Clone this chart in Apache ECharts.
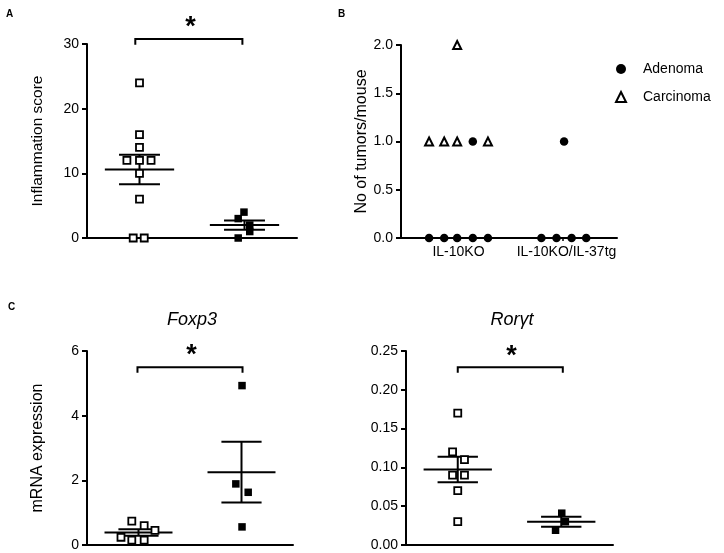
<!DOCTYPE html>
<html><head><meta charset="utf-8">
<script src="https://cdn.jsdelivr.net/npm/echarts@6/dist/echarts.min.js"></script>
<style>html,body{margin:0;padding:0;background:#fff}#c{width:724px;height:553px}</style>
</head><body><div id="c"></div><script>
// ---------- data ----------
// Panel A: inflammation score (IL-10KO vs IL-10KO/IL-37tg)
const aKO   = [24, 16, 14, 12, 12, 12, 10, 6, 0, 0];
const aKOx  = [1.0, 1.0, 1.0, 0.76, 1.0, 1.22, 1.0, 1.0, 0.88, 1.09];
const aTg   = [4, 3, 2, 1, 0];
const aTgx  = [2.99, 2.88, 3.1, 3.1, 2.88];
const aYTicks = [0, 10, 20, 30];
// Panel B: tumors per mouse
const bGroups = ['IL-10KO', 'IL-10KO/IL-37tg'];
const bAdenoma  = [0, 0, 0, 0, 0, 1, 0, 0, 0, 0, 1];
const bAdenomaX = [0.52, 0.80, 1.04, 1.33, 1.61, 1.33, 2.60, 2.88, 3.16, 3.43, 3.02];
const bCarcinoma  = [1, 1, 1, 1, 2];
const bCarcinomaX = [0.52, 0.80, 1.04, 1.61, 1.04];
const bYTicks = [0, 0.5, 1.0, 1.5, 2.0];
// Panel C: Foxp3 mRNA
const fKO  = [0.74, 0.60, 0.45, 0.24, 0.15, 0.15];
const fKOx = [0.87, 1.11, 1.32, 0.66, 0.87, 1.11];
const fTg  = [4.93, 1.89, 1.63, 0.56];
const fTgx = [3.01, 2.89, 3.13, 3.01];
const fYTicks = [0, 2, 4, 6];
// Panel C: Rorγt mRNA
const rKO  = [0.17, 0.12, 0.11, 0.09, 0.09, 0.07, 0.03];
const rKOx = [1.0, 0.9, 1.13, 0.9, 1.13, 1.0, 1.0];
const rTg  = [0.041, 0.030, 0.019];
const rTgx = [3.01, 3.08, 2.89];
const rYTicks = [0, 0.05, 0.10, 0.15, 0.20, 0.25];
// group centres and significance brackets [x1, x2, yTop, yLeg, xStar, yStar]
const groupCentres = [1, 3];
const sigA = [0.92, 2.96, 30.77, 29.9, 1.97, 32.5];
const sigF = [0.98, 3.02, 5.50, 5.33, 2.03, 5.85];
const sigR = [1.0, 3.03, 0.229, 0.222, 2.04, 0.243];

// ---------- helpers ----------
const FONT = '"Liberation Sans", Arial, Helvetica, sans-serif';
const BLACK = '#000';
function pts(xs, ys) { return ys.map((y, i) => [xs[i], y]); }
function stats(v) {
  const n = v.length, m = v.reduce((a, b) => a + b, 0) / n;
  const sd = Math.sqrt(v.reduce((a, b) => a + (b - m) * (b - m), 0) / (n - 1));
  return [m, sd / Math.sqrt(n)];
}
const MH = 0.66, SH = 0.39;
function errRender(params, api) {
  const c = api.value(0), m = api.value(1), s = api.value(2);
  const segs = [
    [c - MH, m, c + MH, m],
    [c - SH, m + s, c + SH, m + s],
    [c - SH, m - s, c + SH, m - s],
    [c, m - s, c, m + s]
  ];
  return { type: 'group', children: segs.map(l => {
    const a = api.coord([l[0], l[1]]), b = api.coord([l[2], l[3]]);
    return { type: 'line', shape: { x1: a[0], y1: a[1], x2: b[0], y2: b[1] },
             style: { stroke: BLACK, lineWidth: 2 } };
  }) };
}
function bracketRender(params, api) {
  const v = [0, 1, 2, 3, 4, 5].map(i => api.value(i));
  const a = api.coord([v[0], v[3]]), b = api.coord([v[0], v[2]]),
        c = api.coord([v[1], v[2]]), d = api.coord([v[1], v[3]]),
        s = api.coord([v[4], v[5]]);
  return { type: 'group', children: [
    { type: 'polyline', shape: { points: [a, b, c, d] }, style: { stroke: BLACK, lineWidth: 2, fill: null } },
    { type: 'text', x: s[0], y: s[1], style: { text: '*', font: 'bold 27px ' + FONT, fill: BLACK, align: 'center', verticalAlign: 'middle' } }
  ] };
}
function errSeries(idx, g1, g2) {
  const s1 = stats(g1), s2 = stats(g2);
  return { type: 'custom', xAxisIndex: idx[0], yAxisIndex: idx[1], renderItem: errRender, z: 3,
           data: [[groupCentres[0], s1[0], s1[1]], [groupCentres[1], s2[0], s2[1]]] };
}
function sigSeries(idx, s) {
  return { type: 'custom', xAxisIndex: idx[0], yAxisIndex: idx[1], renderItem: bracketRender, z: 3, data: [s] };
}
function openSq(idx, data) {
  return { type: 'scatter', xAxisIndex: idx[0], yAxisIndex: idx[1], symbol: 'rect', symbolSize: 7, z: 4,
           itemStyle: { color: '#fff', borderColor: BLACK, borderWidth: 1.8, opacity: 1 }, data: data };
}
function fillSq(idx, data) {
  return { type: 'scatter', xAxisIndex: idx[0], yAxisIndex: idx[1], symbol: 'rect', symbolSize: 7.5, z: 4,
           itemStyle: { color: BLACK, opacity: 1 }, data: data };
}
function yAxis(grid, ticks, fmt, name, gap, nameSize) {
  return {
    type: 'value', gridIndex: grid, min: ticks[0], max: ticks[ticks.length - 1], interval: ticks[1] - ticks[0],
    axisLine: { show: true, lineStyle: { color: BLACK, width: 2 } },
    axisTick: { show: true, length: 5, lineStyle: { color: BLACK, width: 2 } },
    axisLabel: { fontSize: 14, fontFamily: FONT, color: BLACK, margin: 8, formatter: fmt },
    splitLine: { show: false },
    name: name, nameLocation: 'middle', nameGap: gap,
    nameTextStyle: { fontSize: nameSize, fontFamily: FONT, color: BLACK }
  };
}
function xValAxis(grid, show, pos) {
  return {
    type: 'value', gridIndex: grid, min: 0, max: 4, show: show, position: pos,
    axisLine: { show: true, onZero: false, lineStyle: { color: BLACK, width: 2 } },
    axisTick: { show: false }, axisLabel: { show: false }, splitLine: { show: false }
  };
}

const chart = echarts.init(document.getElementById('c'), null, { renderer: 'canvas' });
const txt = { fontFamily: FONT, color: BLACK };
chart.setOption({
  animation: false,
  backgroundColor: '#fff',
  textStyle: { fontFamily: FONT },
  title: [
    { text: 'A', left: 6, top: 9, padding: 0, textStyle: Object.assign({ fontSize: 10, fontWeight: 'bold' }, txt) },
    { text: 'B', left: 338, top: 9, padding: 0, textStyle: Object.assign({ fontSize: 10, fontWeight: 'bold' }, txt) },
    { text: 'C', left: 8, top: 302, padding: 0, textStyle: Object.assign({ fontSize: 10, fontWeight: 'bold' }, txt) },
    { text: 'Foxp3', left: 192, textAlign: 'center', top: 311, padding: 0,
      textStyle: Object.assign({ fontSize: 18, fontStyle: 'italic', fontWeight: 'normal' }, txt) },
    { text: 'Rorγt', left: 512, textAlign: 'center', top: 311, padding: 0,
      textStyle: Object.assign({ fontSize: 18, fontStyle: 'italic', fontWeight: 'normal' }, txt) }
  ],
  legend: {
    left: 610, top: 57, orient: 'vertical', itemGap: 14, itemWidth: 10, itemHeight: 10,
    textStyle: { fontSize: 14, fontFamily: FONT, color: BLACK, padding: [0, 0, 0, 12] },
    data: ['Adenoma', 'Carcinoma']
  },
  grid: [
    { left: 87, top: 44, width: 210, height: 194, containLabel: false, outerBoundsMode: 'none' },
    { left: 401, top: 45, width: 216, height: 193, containLabel: false, outerBoundsMode: 'none' },
    { left: 87, top: 351, width: 206, height: 194, containLabel: false, outerBoundsMode: 'none' },
    { left: 406, top: 351, width: 207, height: 194, containLabel: false, outerBoundsMode: 'none' }
  ],
  xAxis: [
    xValAxis(0, true, 'bottom'),
    xValAxis(1, false, 'top'),
    { type: 'category', gridIndex: 1, data: bGroups, boundaryGap: true, position: 'bottom',
      axisLine: { show: true, onZero: false, lineStyle: { color: BLACK, width: 2 } },
      axisTick: { show: true, alignWithLabel: true, length: 3, lineStyle: { color: BLACK, width: 1.5 } },
      axisLabel: { fontSize: 14, fontFamily: FONT, color: BLACK, margin: 7, interval: 0, padding: [0, 0, 0, 7] },
      splitLine: { show: false } },
    xValAxis(2, true, 'bottom'),
    xValAxis(3, true, 'bottom')
  ],
  yAxis: [
    yAxis(0, aYTicks, v => String(v), 'Inflammation score', 41, 15.5),
    yAxis(1, bYTicks, v => v.toFixed(1), 'No of tumors/mouse', 28, 16),
    yAxis(2, fYTicks, v => String(v), 'mRNA expression', 41, 16),
    yAxis(3, rYTicks, v => v.toFixed(2), '', 0, 16)
  ],
  series: [
    // A
    errSeries([0, 0], aKO, aTg),
    openSq([0, 0], pts(aKOx, aKO)),
    fillSq([0, 0], pts(aTgx, aTg)),
    sigSeries([0, 0], sigA),
    // B
    { name: 'Adenoma', type: 'scatter', xAxisIndex: 1, yAxisIndex: 1, symbol: 'circle', symbolSize: 8.5, z: 4,
      itemStyle: { color: BLACK, opacity: 1 }, data: pts(bAdenomaX, bAdenoma) },
    { name: 'Carcinoma', type: 'scatter', xAxisIndex: 1, yAxisIndex: 1, symbol: 'triangle', symbolSize: 8, z: 4,
      itemStyle: { color: '#fff', borderColor: BLACK, borderWidth: 2, opacity: 1 }, data: pts(bCarcinomaX, bCarcinoma) },
    // C Foxp3
    errSeries([3, 2], fKO, fTg),
    openSq([3, 2], pts(fKOx, fKO)),
    fillSq([3, 2], pts(fTgx, fTg)),
    sigSeries([3, 2], sigF),
    // C Rorγt
    errSeries([4, 3], rKO, rTg),
    openSq([4, 3], pts(rKOx, rKO)),
    fillSq([4, 3], pts(rTgx, rTg)),
    sigSeries([4, 3], sigR)
  ]
});
</script></body></html>
